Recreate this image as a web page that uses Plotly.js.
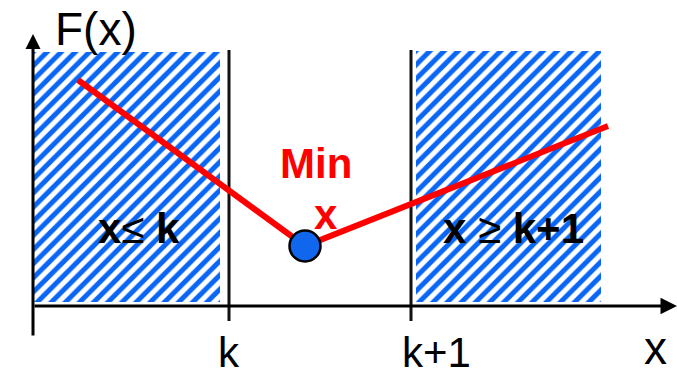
<!DOCTYPE html>
<html>
<head>
<meta charset="utf-8">
<script src="https://cdn.plot.ly/plotly-3.0.1.min.js"></script>
<style>html,body{margin:0;padding:0;background:#fff;}#chart{width:677px;height:378px;}</style>
</head>
<body>
<div id="chart"></div>
<script>
// Conceptual coordinates: x measured from the F(x) axis, y measured up from the x axis
const tickPos = [196, 378];
const tickLabels = ['k', 'k+1'];
const leftRegionX = [1, 187];
const leftRegionY = [4, 254];
const rightRegionX = [383, 568];
const rightRegionY = [4, 255];
const fX = [45, 272, 575];
const fY = [226, 60, 180];
const minPointX = [272];
const minPointY = [60];
const xAxisSpan = [0, 644];
const yAxisSpan = [-31, 272];
const boundarySpan = [-15, 256];
const regionLabels = ['<b>x</b>≤ <b>k</b>', '<b>x</b> ≥ <b>k+1</b>'];

const BLUE = '#0a66f5';
const FONT = 'Liberation Sans, Arial, sans-serif';

function rect(xs, ys) {
  return {
    x: [xs[0], xs[1], xs[1], xs[0], xs[0]],
    y: [ys[0], ys[0], ys[1], ys[1], ys[0]],
    type: 'scatter', mode: 'lines', fill: 'toself',
    line: {width: 0, color: 'rgba(0,0,0,0)'},
    fillcolor: 'white',
    fillpattern: {shape: '/', fgcolor: BLUE, bgcolor: 'white', size: 10, solidity: 0.5},
    hoverinfo: 'skip', showlegend: false
  };
}

const traces = [
  rect(leftRegionX, leftRegionY),
  rect(rightRegionX, rightRegionY),
  {x: [tickPos[0], tickPos[0]], y: boundarySpan, type: 'scatter', mode: 'lines',
   line: {color: '#111', width: 3}, showlegend: false, hoverinfo: 'skip'},
  {x: [tickPos[1], tickPos[1]], y: boundarySpan, type: 'scatter', mode: 'lines',
   line: {color: '#111', width: 3}, showlegend: false, hoverinfo: 'skip'},
  {x: fX, y: fY, type: 'scatter', mode: 'lines',
   line: {color: '#ff0000', width: 6}, showlegend: false, hoverinfo: 'skip'},
  {x: minPointX, y: minPointY, type: 'scatter', mode: 'markers',
   marker: {size: 31, color: '#1166ee', line: {color: '#000', width: 2.5}},
   showlegend: false, hoverinfo: 'skip'}
];

const annotations = [
  // axes with arrowheads
  {x: xAxisSpan[1], y: 0, ax: xAxisSpan[0], ay: 0, xref: 'x', yref: 'y', axref: 'x', ayref: 'y',
   text: '', showarrow: true, arrowhead: 2, arrowwidth: 3, arrowsize: 1.1, arrowcolor: '#000'},
  {x: 0, y: yAxisSpan[1], ax: 0, ay: yAxisSpan[0], xref: 'x', yref: 'y', axref: 'x', ayref: 'y',
   text: '', showarrow: true, arrowhead: 2, arrowwidth: 3, arrowsize: 1, arrowcolor: '#000'},
  // axis titles
  {x: 63, y: 277, xref: 'x', yref: 'y', text: 'F(x)', showarrow: false,
   font: {family: FONT, size: 46, color: '#000'}},
  {x: 622, y: -42, xref: 'x', yref: 'y', text: 'x', showarrow: false,
   font: {family: FONT, size: 46, color: '#000'}},
  // tick labels
  {x: tickPos[0], y: -46, xref: 'x', yref: 'y', text: tickLabels[0], showarrow: false,
   font: {family: FONT, size: 42, color: '#000'}},
  {x: tickPos[1] + 25, y: -46, xref: 'x', yref: 'y', text: tickLabels[1], showarrow: false,
   font: {family: FONT, size: 42, color: '#000'}},
  // region labels
  {x: 106, y: 78, xref: 'x', yref: 'y', text: regionLabels[0], showarrow: false,
   font: {family: FONT, size: 42, color: '#000'}},
  {x: 480, y: 78, xref: 'x', yref: 'y', text: regionLabels[1], showarrow: false,
   font: {family: FONT, size: 42, color: '#000'}},
  // Min x
  {x: 283, y: 143, xref: 'x', yref: 'y', text: '<b>Min</b>', showarrow: false,
   font: {family: FONT, size: 42, color: '#ff0000'}},
  {x: 293, y: 92, xref: 'x', yref: 'y', text: '<b>x</b>', showarrow: false,
   font: {family: FONT, size: 42, color: '#ff0000'}}
];

const layout = {
  width: 677, height: 378,
  margin: {l: 0, r: 0, t: 0, b: 0},
  paper_bgcolor: 'white', plot_bgcolor: 'white',
  xaxis: {range: [-33, 644], visible: false, fixedrange: true},
  yaxis: {range: [-72, 306], visible: false, fixedrange: true},
  annotations: annotations,
  showlegend: false
};

Plotly.newPlot('chart', traces, layout, {staticPlot: true, displayModeBar: false});
</script>
</body>
</html>
